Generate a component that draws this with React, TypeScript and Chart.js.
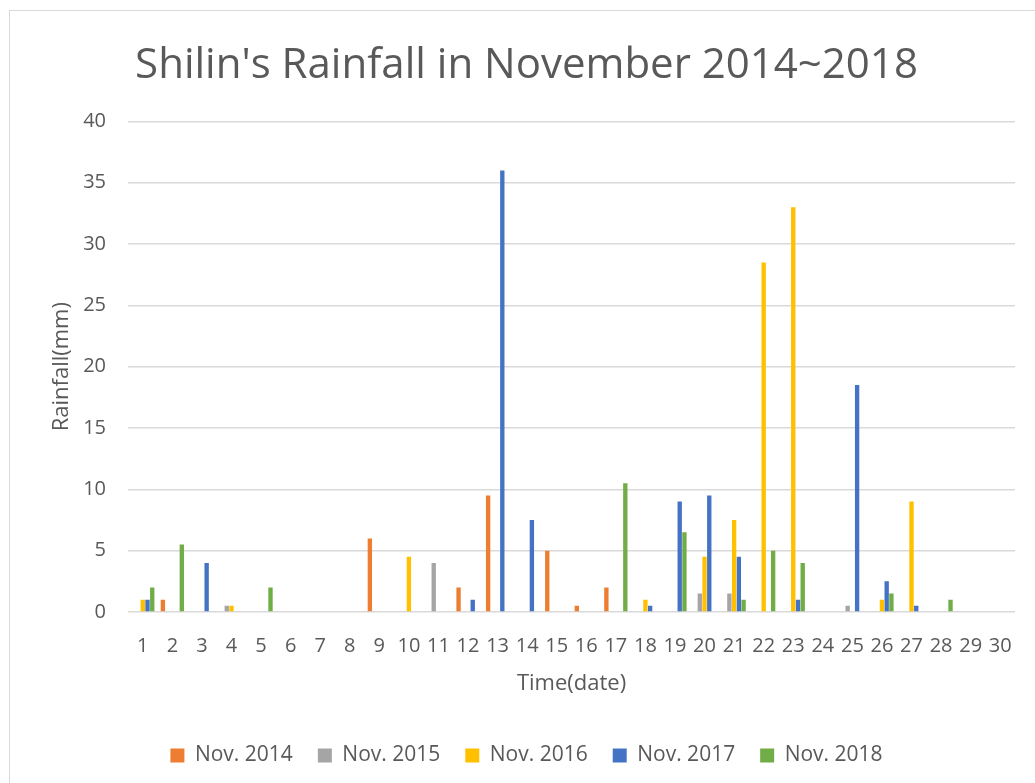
import React, { useEffect, useRef } from "react";
import { Chart, registerables } from "chart.js";

Chart.register(...registerables);

const dates = [
  "1", "2", "3", "4", "5", "6", "7", "8", "9", "10",
  "11", "12", "13", "14", "15", "16", "17", "18", "19", "20",
  "21", "22", "23", "24", "25", "26", "27", "28", "29", "30",
];

const nov2014 = [0, 1, 0, 0, 0, 0, 0, 0, 6, 0, 0, 2, 9.5, 0, 5, 0.5, 2, 0, 0, 0, 0, 0, 0, 0, 0, 0, 0, 0, 0, 0];
const nov2015 = [0, 0, 0, 0.5, 0, 0, 0, 0, 0, 0, 4, 0, 0, 0, 0, 0, 0, 0, 0, 1.5, 1.5, 0, 0, 0, 0.5, 0, 0, 0, 0, 0];
const nov2016 = [1, 0, 0, 0.5, 0, 0, 0, 0, 0, 4.5, 0, 0, 0, 0, 0, 0, 0, 1, 0, 4.5, 7.5, 28.5, 33, 0, 0, 1, 9, 0, 0, 0];
const nov2017 = [1, 0, 4, 0, 0, 0, 0, 0, 0, 0, 0, 1, 36, 7.5, 0, 0, 0, 0.5, 9, 9.5, 4.5, 0, 1, 0, 18.5, 2.5, 0.5, 0, 0, 0];
const nov2018 = [2, 5.5, 0, 0, 2, 0, 0, 0, 0, 0, 0, 0, 0, 0, 0, 0, 10.5, 0, 6.5, 0, 1, 5, 4, 0, 0, 1.5, 0, 1, 0, 0];

const seriesNames = ["Nov. 2014", "Nov. 2015", "Nov. 2016", "Nov. 2017", "Nov. 2018"];
const seriesColors = ["#ED7D31", "#A5A5A5", "#FFC000", "#4472C4", "#70AD47"];

const titleText = "Shilin's Rainfall in November 2014~2018";
const xTitle = "Time(date)";
const yTitle = "Rainfall(mm)";

const TEXT = "#595959";
const GRID = "#D9D9D9";
const FONT = "'Open Sans', 'DejaVu Sans', sans-serif";

export default function App() {
  const canvasRef = useRef<HTMLCanvasElement | null>(null);

  useEffect(() => {
    document.body.style.margin = "0";
    const canvas = canvasRef.current;
    if (!canvas) return;
    const values = [nov2014, nov2015, nov2016, nov2017, nov2018];
    const chart = new Chart(canvas, {
      type: "bar",
      data: {
        labels: dates,
        datasets: values.map((v, i) => ({
          label: seriesNames[i],
          data: v,
          backgroundColor: seriesColors[i],
          borderWidth: 0,
          categoryPercentage: 0.8,
          barPercentage: 0.92,
        })),
      },
      options: {
        responsive: false,
        animation: false,
        devicePixelRatio: 1,
        layout: { padding: { left: 38, right: 20, top: 0, bottom: 7 } },
        plugins: {
          tooltip: { enabled: false },
          title: {
            display: true,
            text: titleText,
            color: TEXT,
            font: { family: FONT, size: 42, weight: "normal", lineHeight: 1.2 },
            padding: { top: 41, bottom: 30 },
          },
          legend: {
            display: true,
            position: "bottom",
            labels: {
              color: TEXT,
              font: { family: FONT, size: 21 },
              boxWidth: 14,
              boxHeight: 14,
              padding: 25,
            },
          },
        },
        scales: {
          x: {
            grid: { display: false, drawTicks: false },
            border: { display: false },
            ticks: {
              color: TEXT,
              font: { family: FONT, size: 20, lineHeight: 1.2 },
              padding: 22,
              maxRotation: 0,
              autoSkip: false,
            },
            title: {
              display: true,
              text: xTitle,
              color: TEXT,
              font: { family: FONT, size: 22, lineHeight: 1.2 },
              padding: { top: 0, bottom: 23 },
            },
            afterFit: (scale: any) => {
              scale.height = 108;
            },
          },
          y: {
            min: 0,
            max: 40,
            grid: { color: GRID, lineWidth: 1.5, drawTicks: false },
            border: { display: false },
            ticks: {
              stepSize: 5,
              color: TEXT,
              font: { family: FONT, size: 20, lineHeight: 1.2 },
              padding: 22,
            },
            title: {
              display: true,
              text: yTitle,
              color: TEXT,
              font: { family: FONT, size: 22, lineHeight: 1.2 },
              padding: { top: 11, bottom: 0 },
            },
            afterFit: (scale: any) => {
              scale.width = 90;
            },
          },
        },
      },
    });
    return () => {
      chart.destroy();
    };
  }, []);

  return (
    <div
      style={{
        position: "fixed",
        left: 0,
        top: 0,
        width: 1035,
        height: 783,
        overflow: "hidden",
        background: "#ffffff",
      }}
    >
      <div
        style={{
          position: "absolute",
          left: 9,
          top: 10,
          width: 1040,
          height: 800,
          border: "1px solid #D9D9D9",
          boxSizing: "border-box",
        }}
      />
      <canvas
        ref={canvasRef}
        width={1035}
        height={783}
        style={{ position: "absolute", left: 0, top: 0, width: 1035, height: 783 }}
      />
    </div>
  );
}
